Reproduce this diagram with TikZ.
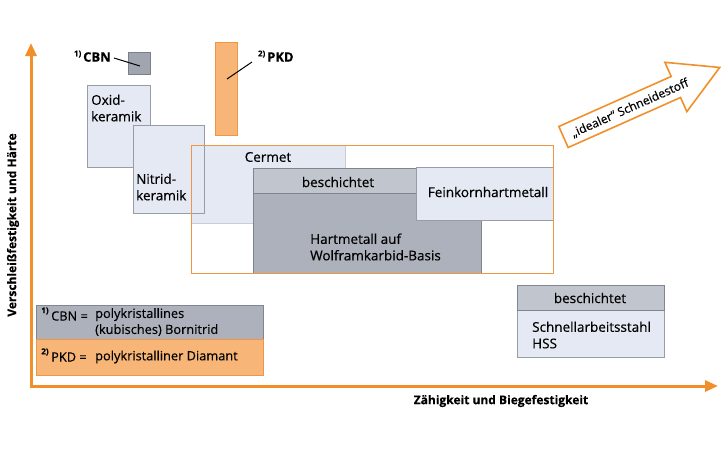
\documentclass[tikz,border=0pt]{standalone}
\usepackage{fontspec}
\setmainfont{Open Sans}[FakeBold=0.4]
\usetikzlibrary{arrows.meta}
\definecolor{achse}{RGB}{241,144,42}
\definecolor{pkdfill}{RGB}{247,181,120}
\definecolor{pkdrand}{RGB}{238,150,70}
\definecolor{cbnfill}{RGB}{160,165,176}
\definecolor{cbnrand}{RGB}{122,127,138}
\definecolor{hellblau}{RGB}{228,233,243}
\definecolor{hellrand}{RGB}{150,156,168}
\definecolor{hmgrau}{RGB}{173,177,187}
\definecolor{schichtgrau}{RGB}{193,197,206}
\definecolor{hmrand}{RGB}{128,133,144}
\tikzset{
  feld/.style={inner sep=0pt, outer sep=0pt, anchor=north west, line width=0.8pt},
  hell/.style={feld, draw=hellrand, fill=hellblau},
  grau/.style={feld, draw=hmrand, fill=hmgrau},
  schicht/.style={feld, draw=hmrand, fill=schichtgrau},
  txt/.style={font=\fontsize{13.5}{16.5}\selectfont, inner sep=0pt, align=left},
  legtxt/.style={txt, font=\fontsize{12.8}{16}\selectfont},
  hoch/.style={font=\fontsize{8}{9}\selectfont\bfseries, inner sep=0pt},
  marke/.style={font=\fontsize{13}{15}\selectfont\bfseries, inner sep=0pt},
  achsentext/.style={font=\fontsize{12}{15}\selectfont\bfseries, inner sep=0pt},
}
\begin{document}
\begin{tikzpicture}[x=1pt,y=-1pt]
\useasboundingbox (0,0) rectangle (728,451);
% Achsen
\coordinate (ursprung) at (31,386);
\coordinate (yspitze) at (31,43);
\coordinate (xspitze) at (718,386);
\draw[achse, line width=3pt, {Triangle[width=11pt,length=13pt]}-{Triangle[width=11pt,length=13pt]}] (yspitze) -- (ursprung) -- (xspitze); % achsen
\node[achsentext, rotate=90] (ylabel) at (13,225) {Verschleißfestigkeit und Härte}; % ylabel
\node[achsentext] (xlabel) at (501,401) {Zähigkeit und Biegefestigkeit}; % xlabel

% Keramik und Hartstoffe
\node[feld, draw=cbnrand, fill=cbnfill, minimum width=22pt, minimum height=22pt] (cbn) at (128,52) {}; % cbn
\node[feld, draw=pkdrand, fill=pkdfill, minimum width=22pt, minimum height=93pt] (pkd) at (215,42) {}; % pkd
\node[hell, minimum width=63pt, minimum height=82pt] (oxid) at (87,85) {}; % oxid
\node[feld, draw=pkdrand, fill=white, minimum width=362pt, minimum height=128pt] (rahmen) at (191,145) {}; % rahmen
\node[feld, fill=hellblau, minimum width=153pt, minimum height=77pt] (cermet) at (192,146) {}; % cermet
\draw[hellrand!50, line width=0.6pt] (cermet.north east) -- (cermet.south east) -- (cermet.south west); % cermet
\node[hell, minimum width=71pt, minimum height=88pt] (nitrid) at (133,125) {}; % nitrid
\node[grau, minimum width=228pt, minimum height=105pt] (hm) at (253,168) {}; % hm
\node[schicht, minimum width=228pt, minimum height=25pt] (hmschicht) at (253,168) {}; % hmschicht
\node[hell, minimum width=137pt, minimum height=53pt] (feinkorn) at (416,167) {}; % feinkorn
\draw[pkdrand, line width=0.8pt] (rahmen.north west) rectangle (rahmen.south east); % rahmen

\node[txt, anchor=west] (oxidtxt) at (91,108) {Oxid-\\keramik}; % oxid
\node[txt, anchor=west] (nitridtxt) at (136,187) {Nitrid-\\keramik}; % nitrid
\node[txt] (cermettxt) at (268,157) {Cermet}; % cermet
\node[txt] (hmschichttxt) at (338,182) {beschichtet}; % hmschicht
\node[txt, anchor=west] (hmtxt) at (310,247) {Hartmetall auf\\Wolframkarbid-Basis}; % hm
\node[txt] (feinkorntxt) at (488,192) {Feinkornhartmetall}; % feinkorn

% Marken CBN / PKD
\node[marke, anchor=west] (cbnmarke) at (83,57) {CBN}; % cbn
\node[hoch, anchor=east] at (cbnmarke.north west) [yshift=-2pt, xshift=-1.5pt] {1)}; % cbn
\coordinate (cbnend) at (140,66);
\draw[line width=1pt] (cbnmarke.east) ++(3pt,-1pt) -- (cbnend); % cbn
\node[marke, anchor=west] (pkdmarke) at (267,57) {PKD}; % pkd
\node[hoch, anchor=east] at (pkdmarke.north west) [yshift=-2pt, xshift=-1.5pt] {2)}; % pkd
\coordinate (pkdend) at (227,79);
\draw[line width=1pt] (252,62) -- (pkdend); % pkd

% Idealer Schneidestoff
\begin{scope}[shift={(563.5,137)}, rotate=24]
\draw[achse, fill=white, line width=1.6pt, line join=miter] (0,-11.5) -- (123,-11.5) -- (123,-27) -- (171,0) -- (123,27) -- (123,11.5) -- (0,11.5) -- cycle; % ideal
\end{scope}
\node[txt, font=\fontsize{12}{14}\selectfont, rotate=24] (ideal) at (630,108) {„idealer“ Schneidestoff}; % ideal

% Legende
\node[feld, draw=hmrand, fill=hmgrau, minimum width=227pt, minimum height=34pt] (legcbn) at (36,305) {}; % legcbn
\node[feld, draw=pkdrand, fill=pkdfill, minimum width=227pt, minimum height=36pt] (legpkd) at (36,339) {}; % legpkd
\node[legtxt, anchor=west] (legcbnkurz) at (51,316) {CBN =}; % legcbn
\node[hoch] at (45,311) {1)}; % legcbn
\node[legtxt, anchor=north west] (legcbntxt) at (95,308) {polykristallines\\(kubisches) Bornitrid}; % legcbn
\node[legtxt, anchor=west] (legpkdkurz) at (51,357) {PKD =}; % legpkd
\node[hoch] at (45,352) {2)}; % legpkd
\node[legtxt, anchor=west] (legpkdtxt) at (95,357) {polykristalliner Diamant}; % legpkd

% HSS
\node[hell, minimum width=147pt, minimum height=72pt] (hss) at (517,285) {}; % hss
\node[schicht, minimum width=147pt, minimum height=25pt] (hssschicht) at (517,285) {}; % hss
\node[txt] (hssschichttxt) at (590,298) {beschichtet}; % hss
\node[txt, anchor=west] (hsstxt) at (532,335) {Schnellarbeitsstahl\\HSS}; % hss
\end{tikzpicture}
\end{document}
